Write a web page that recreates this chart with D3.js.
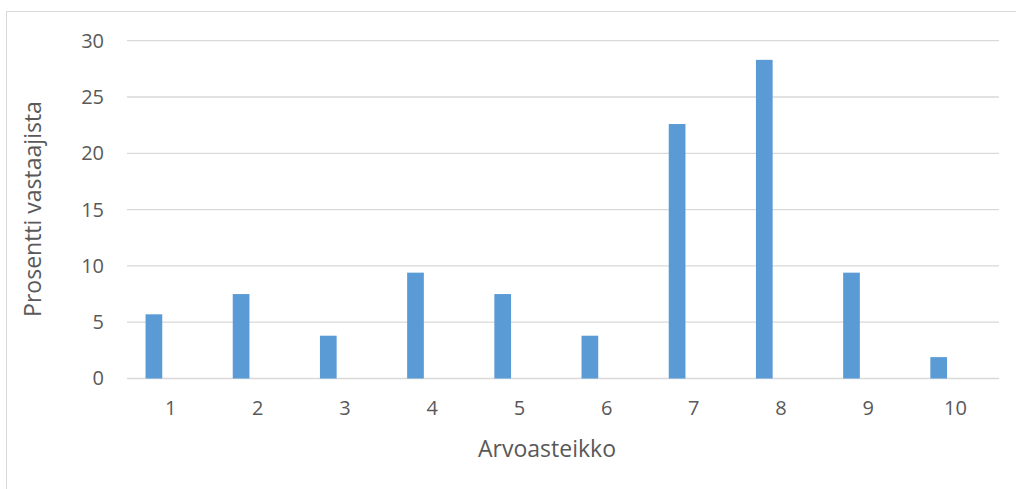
<!DOCTYPE html>
<html>
<head>
<meta charset="utf-8">
<script src="https://cdn.jsdelivr.net/npm/d3@7"></script>
<style>
    body { margin: 0; background: #fff; }
    svg text { font-family: "Open Sans", "Noto Sans", sans-serif; fill: #595959; }
</style>
</head>
<body>
<svg id="chart" width="1016" height="489"></svg>
<script>
// categories on the rating scale and share of respondents (%)
const categories = ['1', '2', '3', '4', '5', '6', '7', '8', '9', '10'];
const values = [5.7, 7.5, 3.8, 9.4, 7.5, 3.8, 22.6, 28.3, 9.4, 1.9];
// Excel cluster slots: only the first one carries data
const slots = ['s1', 's2', 's3'];
const yTicks = [0, 5, 10, 15, 20, 25, 30];

const plot = { left: 127, right: 999, top: 40.7, bottom: 378.5 };

const svg = d3.select('#chart');

// chart area border
svg.append('rect')
    .attr('x', 6.5).attr('y', 11.5)
    .attr('width', 1016).attr('height', 500)
    .attr('fill', 'none')
    .attr('stroke', '#d9d9d9');

const x = d3.scaleBand(categories, [plot.left, plot.right]);
const xInner = d3.scaleBand(slots, [0, x.bandwidth()]).paddingOuter(1.11);
const y = d3.scaleLinear([0, 30], [plot.bottom, plot.top]);

// gridlines
svg.append('g')
    .selectAll('line')
    .data(yTicks)
    .join('line')
    .attr('x1', plot.left).attr('x2', plot.right)
    .attr('y1', d => y(d)).attr('y2', d => y(d))
    .attr('stroke', '#d9d9d9')
    .attr('stroke-width', 1.3);

// bars
svg.append('g')
    .selectAll('rect')
    .data(values)
    .join('rect')
    .attr('x', (d, i) => x(categories[i]) + xInner('s1'))
    .attr('width', xInner.bandwidth())
    .attr('y', d => y(d))
    .attr('height', d => y(0) - y(d))
    .attr('fill', '#5b9bd5');

// y axis labels
const yAxis = d3.axisLeft(y).tickValues(yTicks).tickSize(0).tickPadding(23);
svg.append('g')
    .attr('transform', `translate(${plot.left},0)`)
    .call(yAxis)
    .call(g => g.select('.domain').remove())
    .selectAll('text')
    .style('font-size', '20px')
    .attr('fill', '#595959');

// x axis labels
const xAxis = d3.axisBottom(x).tickSize(0).tickPadding(22);
svg.append('g')
    .attr('transform', `translate(0,${plot.bottom})`)
    .call(xAxis)
    .call(g => g.select('.domain').remove())
    .selectAll('text')
    .style('font-size', '20px')
    .attr('fill', '#595959');

// axis titles
svg.append('text')
    .attr('x', 547).attr('y', 457)
    .attr('text-anchor', 'middle')
    .style('font-size', '23px')
    .text('Arvoasteikko');

svg.append('text')
    .attr('transform', 'translate(41,209) rotate(-90)')
    .attr('text-anchor', 'middle')
    .style('font-size', '23px')
    .text('Prosentti vastaajista');
</script>
</body>
</html>
